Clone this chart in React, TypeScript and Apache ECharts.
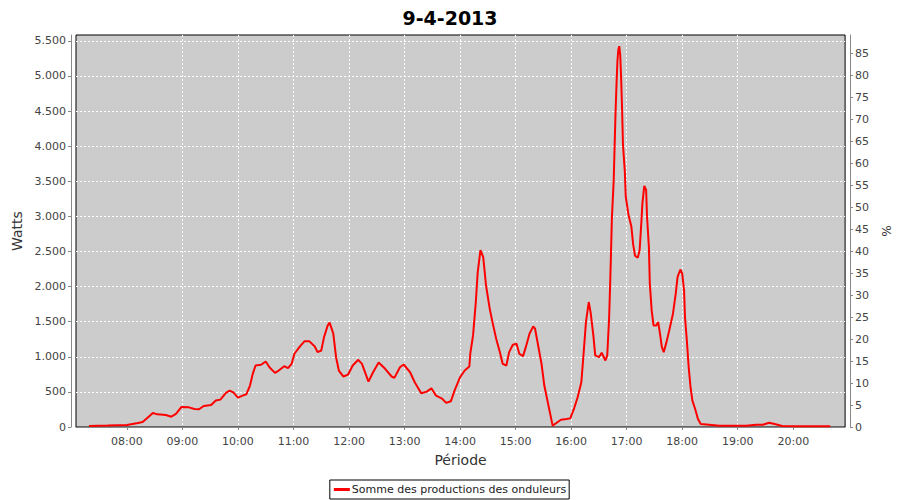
import React, { useEffect, useRef } from "react";
import * as echarts from "echarts";

const chartTitle = "9-4-2013";
const seriesName = "Somme des productions des onduleurs";

const times = [
  "07:19", "07:39", "08:00", "08:12", "08:17", "08:22", "08:28", "08:33", "08:42", "08:48",
  "08:53", "08:59", "09:07", "09:13", "09:18", "09:23", "09:31", "09:36", "09:41", "09:47",
  "09:51", "09:55", "10:00", "10:05", "10:09", "10:13", "10:16", "10:19", "10:25", "10:30",
  "10:34", "10:40", "10:44", "10:50", "10:54", "10:58", "11:01", "11:07", "11:12", "11:17",
  "11:23", "11:26", "11:30", "11:33", "11:37", "11:39", "11:43", "11:46", "11:49", "11:54",
  "11:59", "12:04", "12:10", "12:14", "12:21", "12:26", "12:32", "12:39", "12:46", "12:49",
  "12:55", "12:59", "13:06", "13:11", "13:18", "13:24", "13:29", "13:34", "13:40", "13:45",
  "13:50", "13:54", "14:00", "14:05", "14:10", "14:11", "14:14", "14:17", "14:19", "14:22",
  "14:25", "14:28", "14:32", "14:35", "14:39", "14:43", "14:46", "14:50", "14:53", "14:57",
  "15:01", "15:04", "15:08", "15:11", "15:15", "15:19", "15:21", "15:24", "15:28", "15:31",
  "15:34", "15:37", "15:40", "15:44", "15:49", "15:55", "15:59", "16:03", "16:07", "16:11",
  "16:13", "16:16", "16:19", "16:21", "16:24", "16:26", "16:30", "16:33", "16:37", "16:39",
  "16:41", "16:42", "16:43", "16:44", "16:46", "16:47", "16:48", "16:49", "16:50", "16:51",
  "16:52", "16:53", "16:54", "16:55", "16:56", "16:58", "16:59", "17:02", "17:05", "17:07",
  "17:09", "17:12", "17:14", "17:16", "17:17", "17:19", "17:21", "17:22", "17:24", "17:25",
  "17:27", "17:29", "17:32", "17:34", "17:36", "17:38", "17:40", "17:43", "17:46", "17:50",
  "17:53", "17:55", "17:58", "18:00", "18:02", "18:03", "18:05", "18:07", "18:09", "18:11",
  "18:14", "18:17", "18:20", "18:29", "18:40", "18:54", "19:09", "19:20", "19:27", "19:34",
  "19:41", "19:48", "20:03", "20:40",
];

const watts = [
  14, 20, 28, 57, 71, 128, 200, 180, 171, 147,
  186, 285, 280, 257, 252, 300, 314, 376, 390, 486,
  519, 494, 419, 447, 466, 590, 757, 876, 886, 933,
  851, 771, 804, 866, 837, 900, 1043, 1147, 1223, 1223,
  1147, 1066, 1090, 1280, 1447, 1486, 1329, 994, 804, 719,
  747, 876, 957, 900, 647, 780, 919, 829, 719, 700,
  851, 890, 780, 637, 480, 504, 551, 447, 409, 343,
  366, 519, 709, 804, 861, 1043, 1304, 1780, 2200, 2519,
  2420, 2019, 1686, 1494, 1257, 1066, 900, 876, 1066, 1171,
  1186, 1043, 1009, 1137, 1329, 1433, 1400, 1186, 900, 590,
  400, 209, 19, 57, 104, 114, 123, 257, 423, 637,
  971, 1494, 1780, 1637, 1304, 1019, 994, 1057, 947, 1019,
  1543, 1971, 2447, 2971, 3519, 4019, 4494, 4876, 5209, 5376,
  5423, 5304, 4971, 4543, 4019, 3637, 3280, 3020, 2860, 2600,
  2440, 2410, 2520, 2947, 3186, 3433, 3376, 2994, 2566, 2043,
  1661, 1447, 1447, 1494, 1329, 1137, 1066, 1209, 1376, 1614,
  1900, 2137, 2243, 2186, 1947, 1566, 1233, 851, 566, 376,
  257, 114, 43, 33, 19, 19, 19, 33, 33, 61,
  38, 14, 10, 10,
];

const hourLabels = [
  "08:00", "09:00", "10:00", "11:00", "12:00", "13:00", "14:00",
  "15:00", "16:00", "17:00", "18:00", "19:00", "20:00",
];

const xRange = ["07:05", "20:56"];
const wattsMax = 5583;
const percentMax = 89.2;

const toMin = (t: string) => {
  const [h, m] = t.split(":").map(Number);
  return h * 60 + m;
};
const pad = (n: number) => (n < 10 ? "0" + n : "" + n);
const fmtTime = (v: number) => pad(Math.floor(v / 60)) + ":" + pad(Math.round(v % 60));
const fmtWatts = (v: number) => {
  if (v % 500 !== 0) return "";
  const s = String(v);
  return s.replace(/\B(?=(\d{3})+(?!\d))/g, ".");
};

const FONT = "DejaVu Sans";

export default function App() {
  const ref = useRef<HTMLDivElement>(null);
  useEffect(() => {
    if (!ref.current) return;
    const chart = echarts.init(ref.current, undefined, { renderer: "svg" });
    const hourValues = hourLabels.map(toMin);
    chart.setOption({
      animation: false,
      backgroundColor: "#ffffff",
      textStyle: { fontFamily: FONT },
      title: {
        text: chartTitle,
        left: "center",
        top: 3,
        textStyle: { fontFamily: FONT, fontSize: 19, fontWeight: "bold", color: "#000" },
      },
      legend: {
        bottom: 1,
        left: "center",
        data: [seriesName],
        icon: "rect",
        itemWidth: 16,
        itemHeight: 3,
        borderColor: "#000",
        borderWidth: 1,
        borderRadius: 0,
        padding: [4, 3, 4, 4],
        textStyle: { fontFamily: FONT, fontSize: 11, color: "#222", padding: [0, 0, 0, -3] },
      },
      grid: {
        left: 76,
        right: 54,
        top: 35,
        bottom: 73,
        show: true,
        backgroundColor: "#cccccc",
        borderColor: "#000000",
        borderWidth: 1,
      },
      xAxis: {
        type: "value",
        min: toMin(xRange[0]),
        max: toMin(xRange[1]),
        offset: 5,
        name: "Période",
        nameLocation: "middle",
        nameGap: 21,
        nameTextStyle: { fontFamily: FONT, fontSize: 14, color: "#333" },
        axisLine: { show: true, lineStyle: { color: "#888888", width: 1 } },
        axisTick: { show: true, length: 3, customValues: hourValues, lineStyle: { color: "#888888" } },
        axisLabel: {
          customValues: hourValues,
          formatter: (v: number) => fmtTime(v),
          margin: 4,
          fontFamily: FONT,
          fontSize: 11,
          color: "#444",
        },
        splitLine: {
          show: true,
          showMinLine: false,
          showMaxLine: false,
          lineStyle: { color: "#ffffff", type: [2, 2], width: 1 },
        },
      },
      yAxis: [
        {
          type: "value",
          min: 0,
          max: wattsMax,
          interval: 500,
          offset: 5,
          name: "Watts",
          nameLocation: "middle",
          nameGap: 42,
          nameTextStyle: { fontFamily: FONT, fontSize: 14, color: "#333" },
          axisLine: { show: true, lineStyle: { color: "#888888" } },
          axisTick: { show: true, length: 3, lineStyle: { color: "#888888" } },
          axisLabel: {
            formatter: fmtWatts,
            showMaxLabel: false,
            margin: 5,
            fontFamily: FONT,
            fontSize: 11,
            color: "#444",
          },
          splitLine: {
            show: true,
            showMinLine: false,
            showMaxLine: false,
            lineStyle: { color: "#ffffff", type: [2, 2], width: 1 },
          },
        },
        {
          type: "value",
          min: 0,
          max: percentMax,
          interval: 5,
          offset: 5,
          position: "right",
          name: "%",
          nameLocation: "middle",
          nameGap: 24,
          nameRotate: -90,
          nameTextStyle: { fontFamily: FONT, fontSize: 12, color: "#333" },
          axisLine: { show: true, lineStyle: { color: "#888888" } },
          axisTick: { show: true, length: 3, lineStyle: { color: "#888888" } },
          axisLabel: {
            formatter: (v: number) => (v % 5 === 0 ? String(v) : ""),
            showMaxLabel: false,
            margin: 5,
            fontFamily: FONT,
            fontSize: 11,
            color: "#444",
          },
          splitLine: { show: false },
        },
      ],
      series: [
        {
          name: seriesName,
          type: "line",
          yAxisIndex: 0,
          data: times.map((t, i) => [toMin(t), watts[i]]),
          showSymbol: false,
          symbol: "none",
          lineStyle: { color: "#ff0000", width: 2 },
          itemStyle: { color: "#ff0000" },
        },
      ],
    });
    return () => chart.dispose();
  }, []);
  return (
    <div
      ref={ref}
      style={{ position: "fixed", left: 0, top: 0, width: 900, height: 500 }}
    />
  );
}
